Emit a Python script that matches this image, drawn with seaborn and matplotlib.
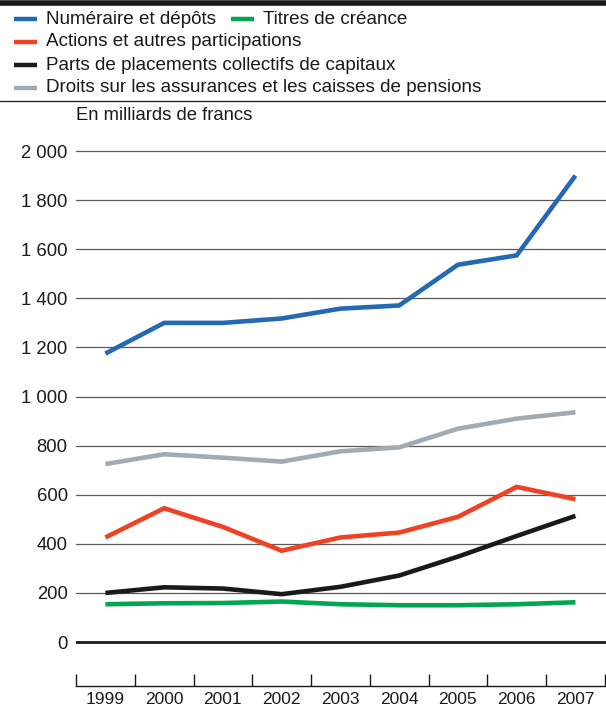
import pandas as pd
import matplotlib.pyplot as plt
import seaborn as sns
import numpy as np
from matplotlib.lines import Line2D
from matplotlib.ticker import FixedLocator, FuncFormatter, NullFormatter

years = [1999, 2000, 2001, 2002, 2003, 2004, 2005, 2006, 2007]
numeraire = [1175, 1300, 1300, 1318, 1358, 1371, 1537, 1575, 1900]
titres = [154, 158, 159, 165, 154, 150, 150, 154, 162]
actions = [426, 545, 469, 372, 426, 446, 510, 632, 582]
placements = [200, 223, 218, 195, 225, 271, 348, 432, 514]
assurances = [725, 765, 751, 735, 777, 793, 869, 910, 936]

labels = ["Numéraire et dépôts", "Titres de créance", "Actions et autres participations",
          "Parts de placements collectifs de capitaux",
          "Droits sur les assurances et les caisses de pensions"]
colors = ["#2469b3", "#00a650", "#ef4123", "#1a1a1a", "#a1abb3"]

df = pd.DataFrame({"year": years * 5,
                   "series": np.repeat(labels, len(years)),
                   "value": numeraire + titres + actions + placements + assurances})

sns.set_style("white")
plt.rcParams["font.family"] = ["Liberation Sans", "DejaVu Sans"]
plt.rcParams["font.size"] = 13

fig = plt.figure(figsize=(6.06, 7.14), dpi=100)
ax = fig.add_axes([76 / 606, 28 / 714, 530 / 606, (686 - 140) / 714])

# grid + zero line
ax.set_axisbelow(True)
ax.yaxis.grid(True, color="#5a5a5a", lw=0.9)
ax.axhline(0, color="#1a1a1a", lw=2, zorder=1)

draw_order = [labels[4], labels[2], labels[3], labels[1], labels[0]]
for name in draw_order:
    sns.lineplot(data=df[df["series"] == name], x="year", y="value",
                 color=colors[labels.index(name)], lw=3.3, legend=False, ax=ax,
                 solid_joinstyle="miter", solid_capstyle="butt", zorder=3)

ax.set_xlim(1998.5, 2007.5 + 0.02)
ax.set_ylim(-179, 2045)
ax.set_yticks(range(0, 2001, 200))
ax.yaxis.set_major_formatter(FuncFormatter(lambda v, p: f"{v:,.0f}".replace(",", " ")))
ax.tick_params(axis="y", left=False, length=0, pad=6, labelsize=13.3, colors="#1a1a1a")

ax.xaxis.set_major_locator(FixedLocator(np.arange(1998.5, 2008, 1)))
ax.xaxis.set_major_formatter(NullFormatter())
ax.xaxis.set_minor_locator(FixedLocator(years))
ax.xaxis.set_minor_formatter(FuncFormatter(lambda v, p: f"{int(round(v))}"))
ax.tick_params(axis="x", which="major", bottom=True, direction="in", length=9, width=1,
               color="#1a1a1a")
ax.tick_params(axis="x", which="minor", bottom=True, length=0, pad=4, labelsize=12.5,
               labelcolor="#1a1a1a")
ax.set_xlabel("")
ax.set_ylabel("")
for s in ["top", "right", "left"]:
    ax.spines[s].set_visible(False)
ax.spines["bottom"].set_color("#1a1a1a")
ax.spines["bottom"].set_linewidth(1)

# header: top bar, legend, separator, unit
fig.add_artist(Line2D([0, 1], [1 - 2.5 / 714, 1 - 2.5 / 714], color="#1a1a1a", lw=4))
fig.add_artist(Line2D([0, 1], [1 - 101 / 714, 1 - 101 / 714], color="#1a1a1a", lw=0.9))

legend_pos = [(14, 19), (231, 19), (14, 42), (14, 65), (14, 88)]
for (px, py), name, c in zip(legend_pos, labels, colors):
    y = 1 - py / 714
    fig.add_artist(Line2D([px / 606, (px + 23) / 606], [y, y], color=c, lw=3.2,
                          solid_capstyle="butt"))
    fig.text((px + 32) / 606, y, name, ha="left", va="center", fontsize=13.6, color="#1a1a1a")

fig.text(76 / 606, 1 - 115 / 714, "En milliards de francs", ha="left", va="center",
         fontsize=13.3, color="#1a1a1a")

fig.savefig("out.png", dpi=100)
